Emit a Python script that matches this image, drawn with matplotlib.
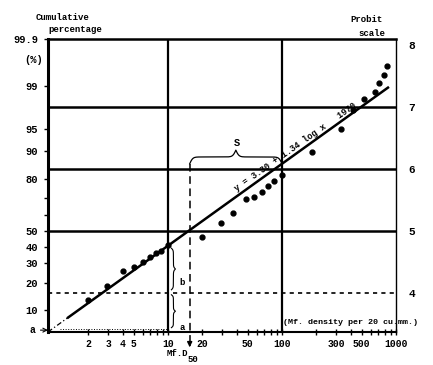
import numpy as np
import matplotlib.pyplot as plt
from statistics import NormalDist

# Mf. density per 20 cu.mm. and cumulative percentage of carriers
density = [2, 2.9, 4, 5, 6, 7, 7.8, 8.7, 10, 20, 29, 37, 48, 57, 67, 75, 85, 100,
           183, 330, 420, 525, 650, 710, 785, 835]
cum_pct = [13.3, 18.8, 25.9, 28.1, 30.9, 33.8, 36.1, 37.3, 41.1, 46.1, 55.1, 61.4,
           69.7, 70.8, 73.5, 76.6, 79.0, 81.7, 89.9, 95.0, 97.4, 98.3, 98.75,
           99.15, 99.4, 99.6]

pct_ticks = [10, 20, 30, 40, 50, 80, 90, 95, 99, 99.9]
pct_minor = [60, 70]
probit_ticks = [4, 5, 6, 7, 8]
x_major = [2, 3, 4, 5, 10, 20, 50, 100, 300, 500, 1000]
x_minor = [6, 7, 8, 9, 30, 40, 60, 70, 80, 90, 200, 400, 600, 700, 800, 900]

# regression line as drawn
fit_a, fit_b = 3.44, 1.32
fit_x0, fit_x1 = 1.33, 850
md50 = 15.5

nd = NormalDist()
def probit(p):
    return np.array([nd.inv_cdf(v / 100.0) + 5 for v in np.atleast_1d(p)])

W, H = 433, 365
def fx(px):
    return px / W
def fy(py):
    return 1 - py / H

plt.rcParams['font.family'] = ['Liberation Mono', 'DejaVu Sans Mono']
plt.rcParams['font.weight'] = 'bold'

fig = plt.figure(figsize=(4.33, 3.65), dpi=100)
ax = fig.add_axes([fx(48), fy(332), 348 / W, 293 / H])
ax.set_xscale('log')
ax.set_xlim(0.886, 1000)
ax.set_ylim(3.37, probit(99.9)[0])

# grid lines
for p in [5, 6, 7]:
    ax.axhline(p, color='k', lw=1.8)
ax.axhline(4, color='k', lw=1.2, dashes=(2.5, 2.5))
for v in [10, 100]:
    ax.axvline(v, color='k', lw=1.6)

ax.spines['left'].set_linewidth(2.2)
ax.spines['top'].set_linewidth(1.8)
ax.spines['right'].set_linewidth(1.0)
ax.spines['bottom'].set_linewidth(1.5)

# x ticks
ax.set_xticks(x_major, [str(v) for v in x_major])
ax.set_xticks(x_minor, minor=True)
ax.xaxis.set_minor_formatter(plt.NullFormatter())
ax.tick_params(axis='x', which='both', direction='inout', length=4, width=1, labelsize=7, pad=3)

# left percentage ticks
ax.set_yticks(probit(pct_ticks), [str(v) for v in pct_ticks])
ax.set_yticks(probit(pct_minor), minor=True)
ax.tick_params(axis='y', which='both', direction='out', length=3, width=1, labelsize=7.5, pad=4)

# right probit scale
ax2 = ax.twinx()
ax2.set_ylim(ax.get_ylim())
ax2.set_yticks(probit_ticks, [str(v) for v in probit_ticks])
ax2.tick_params(axis='y', length=0, labelsize=8, pad=9)
for s in ax2.spines.values():
    s.set_visible(False)

# data points
ax.plot(density, probit(cum_pct), 'o', color='k', ms=3.5)

# fitted line
xs = np.logspace(np.log10(fit_x0), np.log10(fit_x1), 50)
ax.plot(xs, fit_a + fit_b * np.log10(xs), color='k', lw=1.8)
xe = np.array([0.886, fit_x0])
ax.plot(xe, fit_a + fit_b * np.log10(xe), color='k', lw=0.9, dashes=(4, 2, 1, 2))

# faint dotted line along the bottom
ax.plot([1.13, 10], [3.42, 3.42], color='k', lw=0.7, ls=':')

# equation on the line
p1 = ax.transData.transform((10, fit_a + fit_b))
p2 = ax.transData.transform((100, fit_a + 2 * fit_b))
ang = np.degrees(np.arctan2(p2[1] - p1[1], p2[0] - p1[0]))
xt = 40
ax.text(xt, fit_a + fit_b * np.log10(xt) + 0.08, 'y = 3.30 + 1.34 log x   1970',
        rotation=ang - 0.5, rotation_mode='anchor', ha='left', va='baseline', fontsize=6.3)


def brace_shape(n=200, k=60):
    t = np.linspace(0, 0.5, n // 2)
    half = 1 / (1 + np.exp(-k * (t - t[0]))) + 1 / (1 + np.exp(-k * (t - t[-1]))) - 0.5
    return np.concatenate([half, half[::-1][1:]])


# S brace between Mf.D50 and 100
sh = brace_shape()
u = np.linspace(np.log10(md50), np.log10(100), len(sh))
ax.plot(10 ** u, 6.08 + 0.22 * sh, color='k', lw=0.9)
ax.text(40, 6.42, 'S', ha='center', va='center', fontsize=7.5)

# vertical braces a and b beside x = 10
sh = brace_shape(k=40)
yb = np.linspace(4.72, 4.05, len(sh))
ax.plot(10 ** (1.03 + 0.035 * sh), yb, color='k', lw=0.8)
ya = np.linspace(3.97, 3.44, len(sh))
ax.plot(10 ** (1.03 + 0.035 * sh), ya, color='k', lw=0.8)
ax.text(12.5, 4.16, 'b', ha='left', va='center', fontsize=6.5)
ax.text(12.7, 3.45, 'a', ha='left', va='center', fontsize=6.5)

# Mf.D50 dashed line with arrow
ax.plot([md50, md50], [6.08, 3.2], color='k', lw=1.1, dashes=(5, 3), clip_on=False)
ax.annotate('', xy=(md50, 3.08), xytext=(md50, 3.22),
            arrowprops=dict(arrowstyle='-|>', color='k', lw=1.1, mutation_scale=7),
            annotation_clip=False)

# a -> at origin
ax.annotate('a', xy=(0.886, 3.40), xytext=(-16, 0), textcoords='offset pixels',
            ha='center', va='center', fontsize=7,
            arrowprops=dict(arrowstyle='->', color='k', lw=0.8, shrinkA=2, shrinkB=0),
            annotation_clip=False)

# texts around the frame
fig.text(fx(36), fy(17), 'Cumulative', ha='left', va='center', fontsize=6.5)
fig.text(fx(48), fy(30), 'percentage', ha='left', va='center', fontsize=6.5)
fig.text(fx(24), fy(60), '(%)', ha='left', va='center', fontsize=7.5)
fig.text(fx(350), fy(20), 'Probit', ha='left', va='center', fontsize=6.5)
fig.text(fx(358), fy(33), 'scale', ha='left', va='center', fontsize=6.5)
fig.text(fx(283), fy(323), '(Mf. density per 20 cu.mm.)', ha='left', va='center', fontsize=6)
fig.text(fx(167), fy(354), 'Mf.D', ha='left', va='center', fontsize=6.5)
fig.text(fx(188), fy(360), '50', ha='left', va='center', fontsize=6.5)

plt.savefig('out.png', dpi=100)
